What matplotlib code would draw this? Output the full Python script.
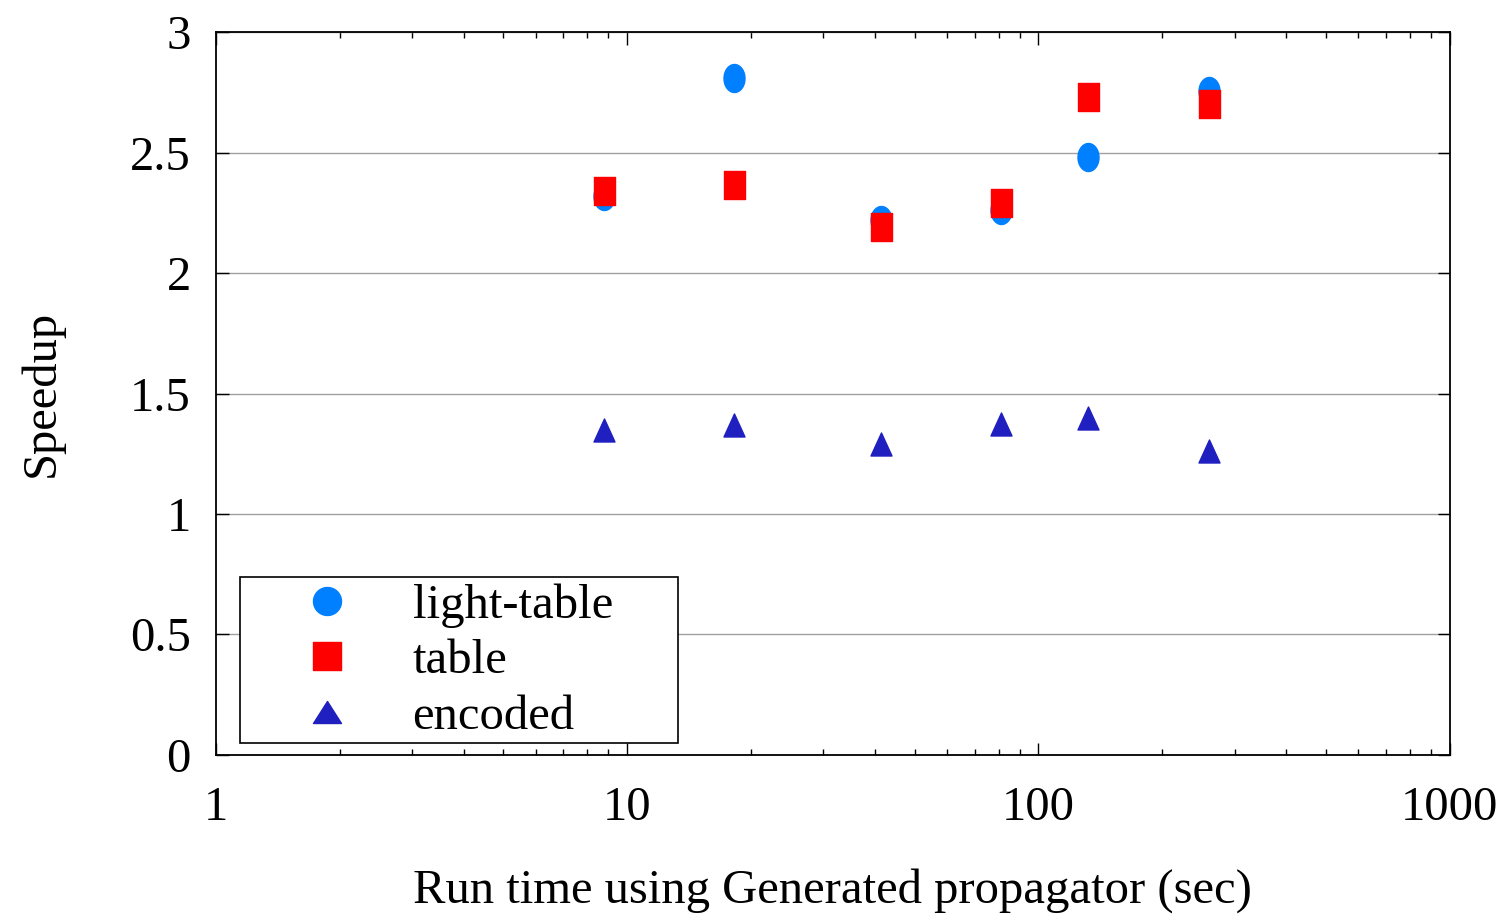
import numpy as np
import matplotlib
matplotlib.use("Agg")
import matplotlib.pyplot as plt
from matplotlib.path import Path
from matplotlib.lines import Line2D
from matplotlib.patches import Rectangle
from matplotlib.ticker import LogLocator, FixedLocator, NullFormatter, FuncFormatter

plt.rcParams['font.family'] = ['Liberation Serif', 'DejaVu Serif']

# Data
run_time = [8.8, 18.2, 41.5, 81.0, 132.0, 260.0]
light_table = [2.32, 2.81, 2.22, 2.26, 2.48, 2.755]
table = [2.34, 2.365, 2.19, 2.29, 2.73, 2.70]
encoded = [1.35, 1.37, 1.29, 1.375, 1.40, 1.26]
series_names = ["light-table", "table", "encoded"]

COLORS = {
    "light-table": "#0080ff",
    "table": "#ff0000",
    "encoded": "#2020c0",
}

PX = 0.72  # points per pixel at dpi 100


def make_marker(kind, w, h):
    """Marker path of w x h pixels; returns (path, markersize in pt)."""
    hw, hh = w / 2, h / 2
    if kind == "circle":
        t = np.linspace(0, 2 * np.pi, 60)
        verts = np.column_stack([hw * np.cos(t), hh * np.sin(t)])
    elif kind == "square":
        verts = np.array([[-hw, -hh], [hw, -hh], [hw, hh], [-hw, hh], [-hw, -hh]])
    else:
        verts = np.array([[-hw, -hh], [hw, -hh], [0, hh], [-hw, -hh]])
    return Path(verts, closed=True), max(w, h) * PX


fig = plt.figure(figsize=(15.1, 9.18), dpi=100)
ax = fig.add_axes([0.143, 0.1776, 0.817, 0.7875])

# data markers (slightly taller than wide, as in the original)
plot_shapes = {"light-table": ("circle", 21, 28),
               "table": ("square", 21, 28),
               "encoded": ("triangle", 21, 23)}
legend_shapes = {"light-table": ("circle", 28, 28),
                 "table": ("square", 28, 28),
                 "encoded": ("triangle", 28, 22)}

for name, values in zip(series_names, [light_table, table, encoded]):
    path, ms = make_marker(*plot_shapes[name])
    ax.plot(run_time, values, linestyle='none', marker=path, markersize=ms,
            color=COLORS[name])

ax.set_xscale('log')
ax.set_xlim(1, 1000)
ax.set_ylim(0, 3)
ax.xaxis.set_major_locator(FixedLocator([1, 10, 100, 1000]))
ax.xaxis.set_major_formatter(FuncFormatter(lambda v, p: f"{int(round(v))}"))
ax.xaxis.set_minor_locator(LogLocator(base=10, subs=np.arange(2, 10)))
ax.xaxis.set_minor_formatter(NullFormatter())
ax.yaxis.set_major_locator(FixedLocator(np.arange(0, 3.01, 0.5)))
ax.yaxis.set_major_formatter(FuncFormatter(lambda v, p: f"{v:g}"))

ax.grid(axis='y', which='major', color='#a0a0a0', linewidth=1.0)
ax.set_axisbelow(True)

ax.tick_params(which='both', direction='in', top=True, right=True,
               labelsize=35, width=1.0, color='black')
ax.tick_params(axis='y', which='major', length=9, pad=18)
ax.tick_params(axis='x', which='major', length=9, pad=22)
ax.tick_params(which='minor', length=4.5)
for s in ax.spines.values():
    s.set_linewidth(1.3)

ax.set_xlabel("Run time using Generated propagator (sec)", fontsize=35,
              labelpad=28)
ax.set_ylabel("Speedup", fontsize=35, labelpad=48)

# legend: box drawn separately to get gnuplot-like padding
ax.add_patch(Rectangle((0.0195, 0.0166), 0.355, 0.2296, transform=ax.transAxes,
                       facecolor='white', edgecolor='black', linewidth=1.2,
                       zorder=4))
handles = []
for name in series_names:
    path, ms = make_marker(*legend_shapes[name])
    handles.append(Line2D([], [], linestyle='none', marker=path, markersize=ms,
                          color=COLORS[name]))
leg = ax.legend(handles, series_names, loc='center left',
                bbox_to_anchor=(0.066, 0.13), fontsize=35, frameon=False,
                handlelength=1.2, handletextpad=1.17, borderpad=0,
                labelspacing=0.24, borderaxespad=0)
leg.set_zorder(5)

fig.savefig("out.png", dpi=100)
